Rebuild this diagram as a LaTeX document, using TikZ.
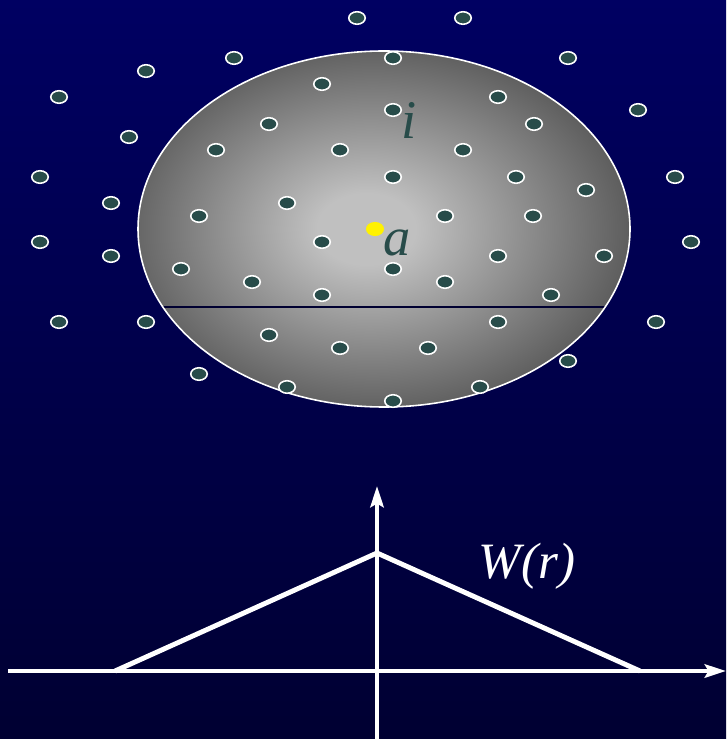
\documentclass[tikz,border=0pt]{standalone}
\usepackage{fontspec}
\setmainfont{Liberation Serif}[ItalicFont={Liberation Serif Italic}]
\usetikzlibrary{arrows.meta, shapes.geometric}
\definecolor{skytop}{RGB}{0,0,98}
\definecolor{skybottom}{RGB}{0,0,50}
\definecolor{partfill}{RGB}{40,76,74}
\definecolor{bloblight}{RGB}{192,192,192}
\definecolor{blobdark}{RGB}{84,84,84}
\pgfdeclareradialshading{kernelblob}{\pgfpoint{-2bp}{0bp}}{color(0bp)=(bloblight); color(5bp)=(bloblight); color(28bp)=(blobdark); color(50bp)=(blobdark)}

\begin{document}
\begin{tikzpicture}[
    x=0.02cm, y=-0.02cm,
    particle/.style={ellipse, draw=white, fill=partfill, line width=0.9pt,
                     minimum width=0.33cm, minimum height=0.25cm, inner sep=0pt},
    axis/.style={-{Stealth[length=12pt, width=7.5pt, inset=2pt]}, white, line width=2.8pt},
    kernel/.style={white, line width=2.8pt},
    lbl/.style={text=partfill, font=\fontsize{31}{31}\selectfont\itshape}
  ]
    \useasboundingbox (0,0) rectangle (726,739);
    % background
    \shade[top color=skytop, bottom color=skybottom] (0,0) rectangle (726,739);

    % smoothing domain
    \path[shading=kernelblob] (384,229) ellipse [x radius=246, y radius=178];
    \begin{scope}
      \clip (384,229) ellipse [x radius=246, y radius=178];
      \draw[skytop!50!black, line width=0.6pt] (100,307) -- (700,307);
    \end{scope}
    \draw[white, line width=0.9pt] (384,229) ellipse [x radius=246, y radius=178];

    % particles
    \foreach \px/\py [count=\k] in {
      357/18, 463/18, 234/58, 393/58, 568/58, 146/71, 322/84,
      59/97, 498/97, 393/110, 269/124, 534/124, 638/110, 129/137,
      216/150, 340/150, 463/150, 40/177, 393/177, 516/177, 675/177,
      586/190, 111/203, 287/203, 199/216, 445/216, 533/216,
      40/242, 322/242, 691/242, 111/256, 498/256, 604/256,
      181/269, 393/269, 252/282, 445/282, 322/295, 551/295,
      59/322, 146/322, 498/322, 656/322, 269/335, 340/348, 428/348,
      568/361, 199/374, 287/387, 480/387, 393/401}{
      \node[particle] (p\k) at (\px,\py) {};
    }
    \node[particle, fill=yellow, draw=yellow] (pa) at (375,229) {};

    \node[lbl] (labi) at (409,120) {i};
    \node[lbl] (laba) at (397,243) {a};

    % kernel W(r)
    \coordinate (xl) at (8,671);
    \coordinate (xr) at (726,671);
    \coordinate (yb) at (377,739);
    \coordinate (yt) at (377,486);
    \coordinate (wl) at (115,671);
    \coordinate (wtop) at (377,553);
    \coordinate (wr) at (640,671);
    \draw[axis] (xl) -- (xr);
    \draw[axis] (yb) -- (yt);
    \draw[kernel] (wl) -- (wtop) -- (wr);
    \node[text=white, font=\fontsize{29}{29}\selectfont\itshape] (wlab) at (527,566) {W(r)};
  \end{tikzpicture}
\end{document}
